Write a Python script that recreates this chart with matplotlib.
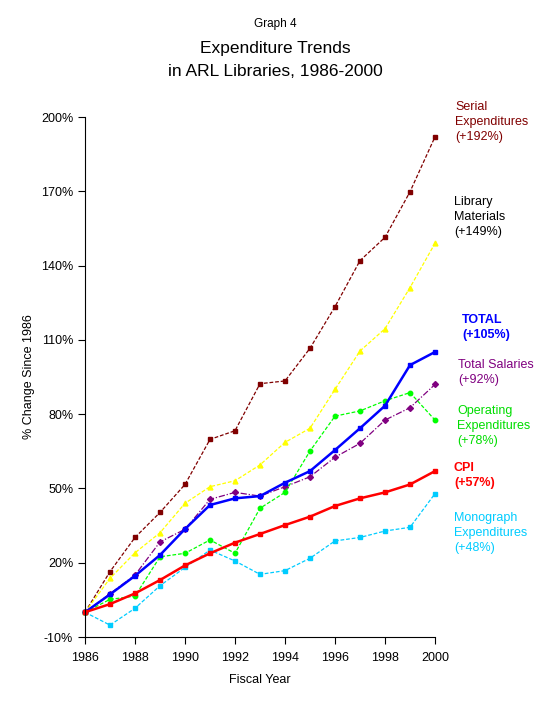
import matplotlib.pyplot as plt

plt.rcParams['font.family'] = ['Liberation Sans', 'DejaVu Sans']

years = list(range(1986, 2001))

serial = [0, 16.4, 30.2, 40.3, 51.6, 69.8, 73.3, 92.3, 93.4, 106.6, 123.4, 142.0, 151.4, 169.8, 192.0]
library = [0, 13.7, 24.0, 32.1, 44.0, 50.7, 53.1, 59.5, 68.6, 74.3, 90.0, 105.5, 114.5, 131.1, 149.0]
total = [0, 7.2, 14.7, 23.1, 33.6, 43.3, 46.0, 46.9, 52.3, 57.0, 65.5, 74.3, 83.4, 99.8, 105.1]
salaries = [0, 7.5, 15.0, 28.4, 33.5, 45.6, 48.4, 46.9, 50.7, 54.7, 62.6, 68.2, 77.6, 82.6, 92.0]
operating = [0, 5.2, 6.5, 22.4, 23.8, 29.2, 23.8, 42.0, 48.4, 65.1, 79.2, 81.3, 85.4, 88.7, 77.6]
cpi = [0, 3.3, 7.6, 13.0, 18.9, 23.8, 28.1, 31.6, 35.2, 38.6, 42.9, 46.0, 48.4, 51.6, 57.0]
monograph = [0, -5.2, 1.6, 10.7, 18.1, 25.1, 20.7, 15.3, 16.8, 21.8, 28.8, 30.2, 32.8, 34.3, 47.9]

yticks = [-10, 20, 50, 80, 110, 140, 170, 200]
xticks = [1986, 1988, 1990, 1992, 1994, 1996, 1998, 2000]

# (name, values, color, linestyle, linewidth, marker, markersize)
series = [
    ("serial", serial, "#800000", (0, (3, 1.5)), 0.9, "s", 3),
    ("library", library, "#FFFF00", (0, (3, 1.5)), 0.9, "^", 3.5),
    ("salaries", salaries, "#800080", (0, (5, 1.5, 1, 1.5)), 0.9, "D", 3),
    ("operating", operating, "#00FF00", (0, (3, 1.5)), 0.9, "o", 3.2),
    ("monograph", monograph, "#00CCFF", (0, (3, 1.5)), 0.9, "s", 3),
    ("total", total, "#0000FF", "-", 1.8, "s", 3.2),
    ("cpi", cpi, "#FF0000", "-", 1.8, "s", 3.2),
]

fig = plt.figure(figsize=(5.5, 7.05), dpi=100)
ax = fig.add_axes([85 / 550, 68 / 705, 350 / 550, 520 / 705])

for name, vals, col, ls, lw, mk, ms in series:
    ax.plot(years, vals, color=col, linestyle=ls, linewidth=lw,
            marker=mk, markersize=ms, clip_on=False)

ax.set_xlim(1986, 2000)
ax.set_ylim(-10, 200)
ax.set_xticks(xticks)
ax.set_yticks(yticks)
ax.set_yticklabels([f"{v}%" for v in yticks])
ax.tick_params(labelsize=9, length=5, direction='out')
ax.tick_params(axis='x', pad=6)
for s in ['top', 'right']:
    ax.spines[s].set_visible(False)

ax.set_xlabel("Fiscal Year", fontsize=9, labelpad=7)
ax.set_ylabel("% Change Since 1986", fontsize=9, labelpad=4)

fig.text(0.5, 1 - 24 / 705, "Graph 4", ha='center', va='center', fontsize=8.5)
fig.text(0.5, 1 - 48 / 705, "Expenditure Trends", ha='center', va='center', fontsize=12.5)
fig.text(0.5, 1 - 72 / 705, "in ARL Libraries, 1986-2000", ha='center', va='center', fontsize=12.5)

labels = [
    (455, 108, "Serial\nExpenditures\n(+192%)", "#800000", "normal"),
    (454, 203, "Library\nMaterials\n(+149%)", "black", "normal"),
    (462, 321, "TOTAL\n(+105%)", "#0000FF", "bold"),
    (458, 366, "Total Salaries\n(+92%)", "#800080", "normal"),
    (457, 412, "Operating\nExpenditures\n(+78%)", "#00DD00", "normal"),
    (454, 469, "CPI\n(+57%)", "#FF0000", "bold"),
    (454, 519, "Monograph\nExpenditures\n(+48%)", "#00CCFF", "normal"),
]
for x, y, txt, col, wt in labels:
    fig.text(x / 550, 1 - (y - 7) / 705, txt, ha='left', va='top', color=col,
             fontsize=9, fontweight=wt, linespacing=1.35)

fig.savefig("out.png", dpi=100)
